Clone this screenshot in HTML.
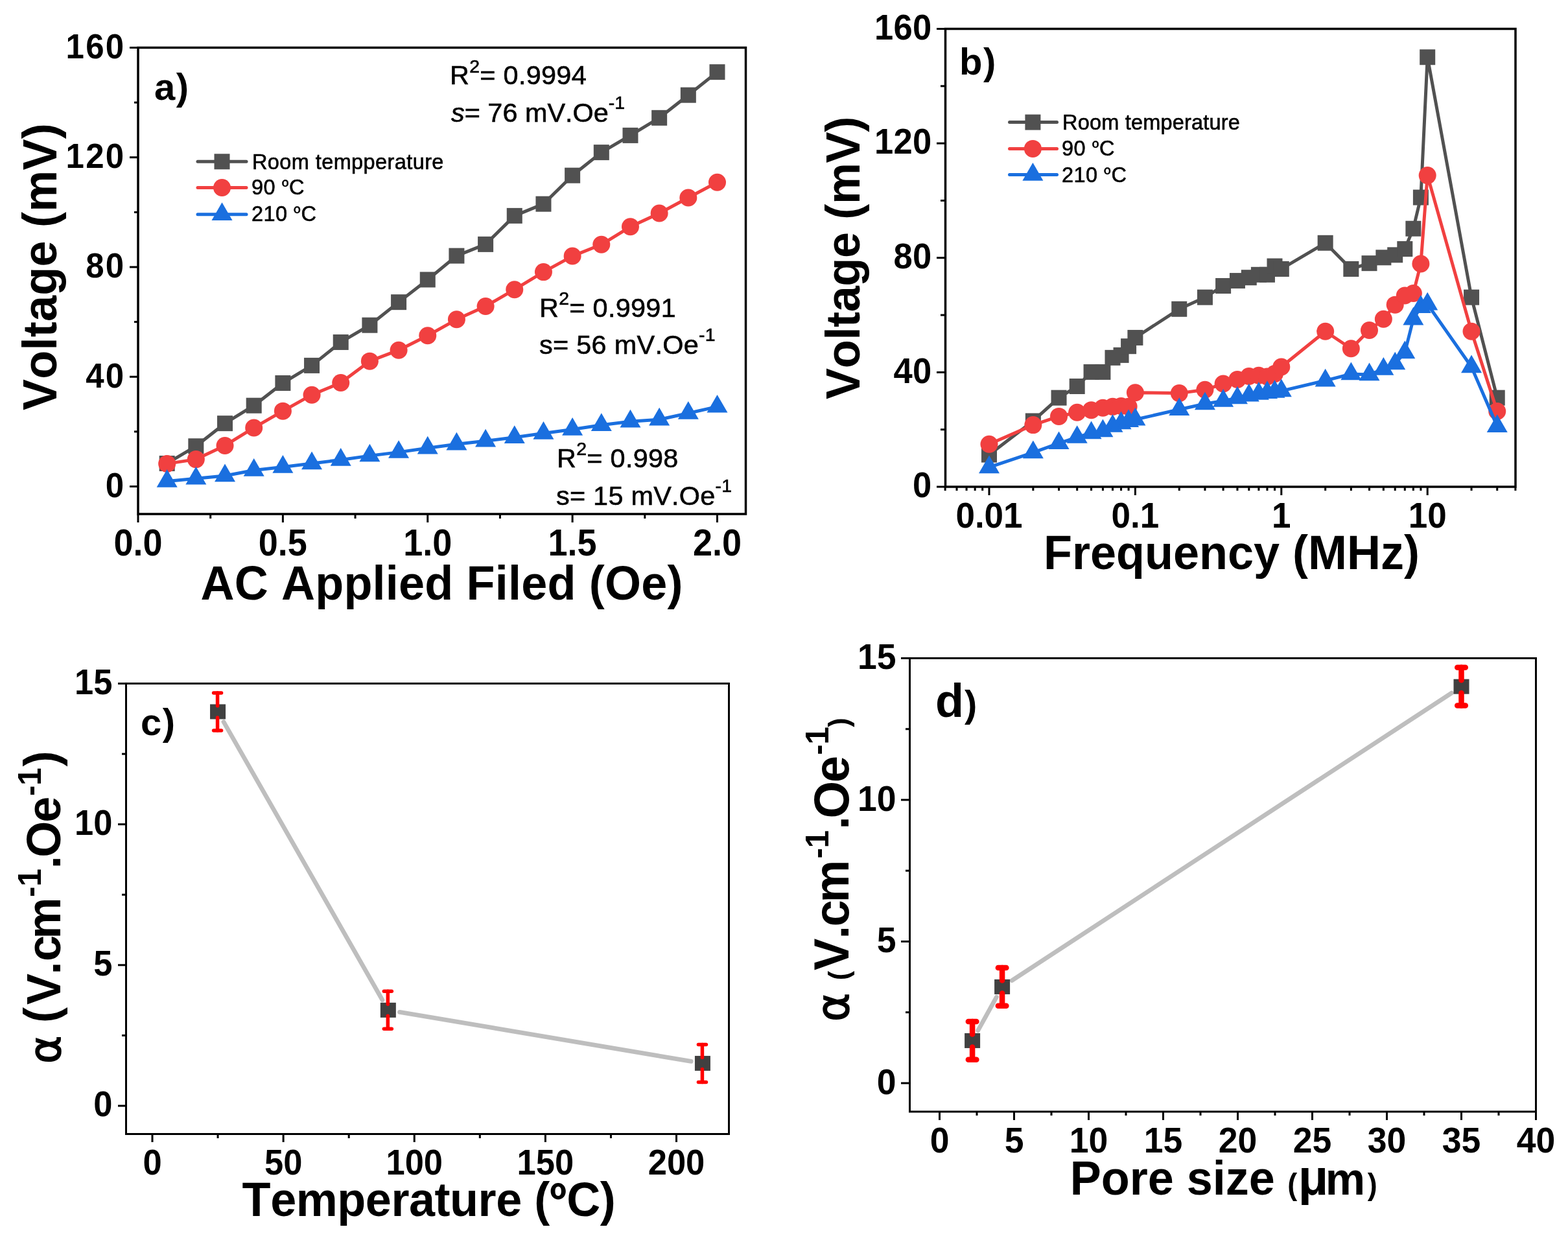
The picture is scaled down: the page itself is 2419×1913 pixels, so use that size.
<!DOCTYPE html>
<html lang="en"><head><meta charset="utf-8"><title>Figure: voltage response and magnetoelectric coefficient</title>
<style>html,body{margin:0;padding:0;background:#fff;overflow:hidden}svg{display:block}text{font-family:"Liberation Sans",sans-serif;fill:#000;font-kerning:none}text.r{stroke:#000;stroke-width:.6px}</style>
</head><body>
<svg width="2419" height="1913" viewBox="0 0 2419 1913">
<rect width="2419" height="1913" fill="#fff"/>
<g id="panel-a">
<polyline fill="none" stroke="#515151" stroke-width="5" stroke-linejoin="round" points="257.68,714.96 302.35,688.3 347.02,653.18 391.7,625.68 436.38,590.98 481.05,563.9 525.73,527.94 570.4,501.7 615.08,466.16 659.75,431.46 704.42,394.65 749.1,376.88 793.77,332.88 838.45,314.68 883.12,270.68 927.8,235.13 972.48,208.9 1017.15,181.82 1061.83,146.7 1106.5,111.16"/>
<rect x="245.68" y="702.96" width="24" height="24" fill="#515151"/>
<rect x="290.35" y="676.3" width="24" height="24" fill="#515151"/>
<rect x="335.02" y="641.18" width="24" height="24" fill="#515151"/>
<rect x="379.7" y="613.68" width="24" height="24" fill="#515151"/>
<rect x="424.38" y="578.98" width="24" height="24" fill="#515151"/>
<rect x="469.05" y="551.9" width="24" height="24" fill="#515151"/>
<rect x="513.73" y="515.94" width="24" height="24" fill="#515151"/>
<rect x="558.4" y="489.7" width="24" height="24" fill="#515151"/>
<rect x="603.08" y="454.16" width="24" height="24" fill="#515151"/>
<rect x="647.75" y="419.46" width="24" height="24" fill="#515151"/>
<rect x="692.42" y="382.65" width="24" height="24" fill="#515151"/>
<rect x="737.1" y="364.88" width="24" height="24" fill="#515151"/>
<rect x="781.77" y="320.88" width="24" height="24" fill="#515151"/>
<rect x="826.45" y="302.68" width="24" height="24" fill="#515151"/>
<rect x="871.12" y="258.68" width="24" height="24" fill="#515151"/>
<rect x="915.8" y="223.13" width="24" height="24" fill="#515151"/>
<rect x="960.48" y="196.9" width="24" height="24" fill="#515151"/>
<rect x="1005.15" y="169.82" width="24" height="24" fill="#515151"/>
<rect x="1049.83" y="134.7" width="24" height="24" fill="#515151"/>
<rect x="1094.5" y="99.16" width="24" height="24" fill="#515151"/>
<polyline fill="none" stroke="#F14040" stroke-width="5" stroke-linejoin="round" points="257.68,715.38 302.35,708.61 347.02,687.45 391.7,659.95 436.38,634.14 481.05,609.18 525.73,590.56 570.4,557.13 615.08,540.21 659.75,517.78 704.42,492.82 749.1,472.51 793.77,446.7 838.45,419.62 883.12,395.07 927.8,377.3 972.48,349.8 1017.15,329.07 1061.83,304.95 1106.5,281.25"/>
<circle cx="257.68" cy="715.38" r="13.5" fill="#F14040"/>
<circle cx="302.35" cy="708.61" r="13.5" fill="#F14040"/>
<circle cx="347.02" cy="687.45" r="13.5" fill="#F14040"/>
<circle cx="391.7" cy="659.95" r="13.5" fill="#F14040"/>
<circle cx="436.38" cy="634.14" r="13.5" fill="#F14040"/>
<circle cx="481.05" cy="609.18" r="13.5" fill="#F14040"/>
<circle cx="525.73" cy="590.56" r="13.5" fill="#F14040"/>
<circle cx="570.4" cy="557.13" r="13.5" fill="#F14040"/>
<circle cx="615.08" cy="540.21" r="13.5" fill="#F14040"/>
<circle cx="659.75" cy="517.78" r="13.5" fill="#F14040"/>
<circle cx="704.42" cy="492.82" r="13.5" fill="#F14040"/>
<circle cx="749.1" cy="472.51" r="13.5" fill="#F14040"/>
<circle cx="793.77" cy="446.7" r="13.5" fill="#F14040"/>
<circle cx="838.45" cy="419.62" r="13.5" fill="#F14040"/>
<circle cx="883.12" cy="395.07" r="13.5" fill="#F14040"/>
<circle cx="927.8" cy="377.3" r="13.5" fill="#F14040"/>
<circle cx="972.48" cy="349.8" r="13.5" fill="#F14040"/>
<circle cx="1017.15" cy="329.07" r="13.5" fill="#F14040"/>
<circle cx="1061.83" cy="304.95" r="13.5" fill="#F14040"/>
<circle cx="1106.5" cy="281.25" r="13.5" fill="#F14040"/>
<polyline fill="none" stroke="#1A6FDF" stroke-width="5" stroke-linejoin="round" points="257.68,742.46 302.35,738.23 347.02,734 391.7,725.54 436.38,720.46 481.05,714.96 525.73,709.46 570.4,703.11 615.08,697.61 659.75,691.26 704.42,685.34 749.1,680.26 793.77,674.76 838.45,668.41 883.12,662.49 927.8,655.72 972.48,650.22 1017.15,647.26 1061.83,637.53 1106.5,627.37"/>
<polygon points="257.68,723.99 241.68,751.7 273.68,751.7" fill="#1A6FDF"/>
<polygon points="302.35,719.75 286.35,747.47 318.35,747.47" fill="#1A6FDF"/>
<polygon points="347.02,715.52 331.02,743.24 363.02,743.24" fill="#1A6FDF"/>
<polygon points="391.7,707.06 375.7,734.77 407.7,734.77" fill="#1A6FDF"/>
<polygon points="436.38,701.98 420.38,729.7 452.38,729.7" fill="#1A6FDF"/>
<polygon points="481.05,696.48 465.05,724.2 497.05,724.2" fill="#1A6FDF"/>
<polygon points="525.73,690.98 509.73,718.69 541.73,718.69" fill="#1A6FDF"/>
<polygon points="570.4,684.63 554.4,712.35 586.4,712.35" fill="#1A6FDF"/>
<polygon points="615.08,679.13 599.08,706.85 631.08,706.85" fill="#1A6FDF"/>
<polygon points="659.75,672.79 643.75,700.5 675.75,700.5" fill="#1A6FDF"/>
<polygon points="704.42,666.86 688.42,694.58 720.42,694.58" fill="#1A6FDF"/>
<polygon points="749.1,661.79 733.1,689.5 765.1,689.5" fill="#1A6FDF"/>
<polygon points="793.77,656.29 777.77,684 809.77,684" fill="#1A6FDF"/>
<polygon points="838.45,649.94 822.45,677.65 854.45,677.65" fill="#1A6FDF"/>
<polygon points="883.12,644.01 867.12,671.73 899.12,671.73" fill="#1A6FDF"/>
<polygon points="927.8,637.24 911.8,664.96 943.8,664.96" fill="#1A6FDF"/>
<polygon points="972.48,631.74 956.48,659.46 988.48,659.46" fill="#1A6FDF"/>
<polygon points="1017.15,628.78 1001.15,656.5 1033.15,656.5" fill="#1A6FDF"/>
<polygon points="1061.83,619.05 1045.83,646.76 1077.83,646.76" fill="#1A6FDF"/>
<polygon points="1106.5,608.9 1090.5,636.61 1122.5,636.61" fill="#1A6FDF"/>
<rect x="213" y="73.5" width="937.5" height="719.5" fill="none" stroke="#000" stroke-width="3.5"/>
<line x1="200" y1="750.5" x2="212" y2="750.5" stroke="#000" stroke-width="3"/>
<text transform="translate(193.5 766.8) scale(1 1.05)" font-size="51" font-weight="bold" text-anchor="end" letter-spacing="2.3">0</text>
<line x1="200" y1="581.25" x2="212" y2="581.25" stroke="#000" stroke-width="3"/>
<text transform="translate(193.5 597.55) scale(1 1.05)" font-size="51" font-weight="bold" text-anchor="end" letter-spacing="2.3">40</text>
<line x1="200" y1="412" x2="212" y2="412" stroke="#000" stroke-width="3"/>
<text transform="translate(193.5 428.3) scale(1 1.05)" font-size="51" font-weight="bold" text-anchor="end" letter-spacing="2.3">80</text>
<line x1="200" y1="242.75" x2="212" y2="242.75" stroke="#000" stroke-width="3"/>
<text transform="translate(193.5 259.05) scale(1 1.05)" font-size="51" font-weight="bold" text-anchor="end" letter-spacing="2.3">120</text>
<line x1="200" y1="73.5" x2="212" y2="73.5" stroke="#000" stroke-width="3"/>
<text transform="translate(193.5 89.8) scale(1 1.05)" font-size="51" font-weight="bold" text-anchor="end" letter-spacing="2.3">160</text>
<line x1="207" y1="665.88" x2="212" y2="665.88" stroke="#000" stroke-width="3"/>
<line x1="207" y1="496.62" x2="212" y2="496.62" stroke="#000" stroke-width="3"/>
<line x1="207" y1="327.38" x2="212" y2="327.38" stroke="#000" stroke-width="3"/>
<line x1="207" y1="158.12" x2="212" y2="158.12" stroke="#000" stroke-width="3"/>
<line x1="213" y1="794" x2="213" y2="806" stroke="#000" stroke-width="3"/>
<text transform="translate(213 856.5) scale(1 1.05)" font-size="54" font-weight="bold" text-anchor="middle">0.0</text>
<line x1="436.38" y1="794" x2="436.38" y2="806" stroke="#000" stroke-width="3"/>
<text transform="translate(436.38 856.5) scale(1 1.05)" font-size="54" font-weight="bold" text-anchor="middle">0.5</text>
<line x1="659.75" y1="794" x2="659.75" y2="806" stroke="#000" stroke-width="3"/>
<text transform="translate(659.75 856.5) scale(1 1.05)" font-size="54" font-weight="bold" text-anchor="middle">1.0</text>
<line x1="883.12" y1="794" x2="883.12" y2="806" stroke="#000" stroke-width="3"/>
<text transform="translate(883.12 856.5) scale(1 1.05)" font-size="54" font-weight="bold" text-anchor="middle">1.5</text>
<line x1="1106.5" y1="794" x2="1106.5" y2="806" stroke="#000" stroke-width="3"/>
<text transform="translate(1106.5 856.5) scale(1 1.05)" font-size="54" font-weight="bold" text-anchor="middle">2.0</text>
<line x1="324.69" y1="794" x2="324.69" y2="800" stroke="#000" stroke-width="3"/>
<line x1="548.06" y1="794" x2="548.06" y2="800" stroke="#000" stroke-width="3"/>
<line x1="771.44" y1="794" x2="771.44" y2="800" stroke="#000" stroke-width="3"/>
<line x1="994.81" y1="794" x2="994.81" y2="800" stroke="#000" stroke-width="3"/>
<text transform="translate(681.5 924.9) scale(1 1.03)" font-size="72" font-weight="bold" text-anchor="middle" letter-spacing="0.2">AC Applied Filed (Oe)</text>
<text transform="translate(86.9 411.5) rotate(-90) scale(1 1.03)" font-size="72" font-weight="bold" text-anchor="middle" letter-spacing="0.25">Voltage (mV)</text>
<text transform="translate(238 153.5)" font-size="58" font-weight="bold" letter-spacing="1.5">a)</text>
<line x1="305" y1="249.3" x2="380" y2="249.3" stroke="#515151" stroke-width="5" stroke-linecap="round"/>
<rect x="330.5" y="237.3" width="24" height="24" fill="#515151"/>
<text transform="translate(389 260.8)" font-size="32.5" class="r" letter-spacing="0.4">Room tempperature</text>
<line x1="305" y1="289.5" x2="380" y2="289.5" stroke="#F14040" stroke-width="5" stroke-linecap="round"/>
<circle cx="342.5" cy="289.5" r="13.5" fill="#F14040"/>
<text transform="translate(388 300.2)" font-size="32.5" class="r" letter-spacing="0.4">90 <tspan font-family="'Noto Sans CJK SC','Liberation Sans',sans-serif" font-size="27.62">º</tspan>C</text>
<line x1="305" y1="330.7" x2="380" y2="330.7" stroke="#1A6FDF" stroke-width="5" stroke-linecap="round"/>
<polygon points="342.5,312.22 326.5,339.94 358.5,339.94" fill="#1A6FDF"/>
<text transform="translate(388 341.2)" font-size="32.5" class="r" letter-spacing="0.4">210 <tspan font-family="'Noto Sans CJK SC','Liberation Sans',sans-serif" font-size="27.62">º</tspan>C</text>
<text transform="translate(694 129.9)" font-size="41.4" class="r" letter-spacing="0.3">R<tspan font-size="28.4" dy="-18.4">2</tspan><tspan dy="18.4">= 0.9994</tspan></text>
<text transform="translate(696 187.7)" font-size="41.4" class="r"><tspan font-style="italic">s</tspan>= 76 mV.Oe<tspan font-size="28.4" dy="-19.5">-1</tspan></text>
<text transform="translate(832 488.8)" font-size="41.4" class="r" letter-spacing="0.3">R<tspan font-size="28.4" dy="-18.4">2</tspan><tspan dy="18.4">= 0.9991</tspan></text>
<text transform="translate(832 545.7)" font-size="41.4" class="r" letter-spacing="0.3">s= 56 mV.Oe<tspan font-size="28.4" dy="-19.5">-1</tspan></text>
<text transform="translate(859 720.5)" font-size="41.4" class="r" letter-spacing="0.3">R<tspan font-size="28.4" dy="-18.4">2</tspan><tspan dy="18.4">= 0.998</tspan></text>
<text transform="translate(858 778.8)" font-size="41.4" class="r" letter-spacing="0.25">s= 15 mV.Oe<tspan font-size="28.4" dy="-19.5">-1</tspan></text>
</g>
<g id="panel-b">
<polyline fill="none" stroke="#515151" stroke-width="5" stroke-linejoin="round" points="1526,701.55 1593.85,649.44 1633.54,613.67 1661.7,596.01 1683.55,573.93 1701.4,573.93 1716.49,551.86 1729.56,547.88 1741.09,534.19 1751.4,520.95 1819.25,476.79 1858.94,458.69 1887.1,441.02 1908.95,433.08 1926.8,428.22 1941.89,423.8 1954.96,423.8 1966.49,410.56 1976.8,414.97 2044.65,374.79 2084.34,414.97 2112.5,406.14 2134.35,397.31 2152.2,393.34 2167.29,384.06 2180.36,352.71 2191.89,304.58 2202.2,88.22 2270.05,458.69 2309.74,613.67"/>
<rect x="1514" y="689.55" width="24" height="24" fill="#515151"/>
<rect x="1581.85" y="637.44" width="24" height="24" fill="#515151"/>
<rect x="1621.54" y="601.67" width="24" height="24" fill="#515151"/>
<rect x="1649.7" y="584.01" width="24" height="24" fill="#515151"/>
<rect x="1671.55" y="561.93" width="24" height="24" fill="#515151"/>
<rect x="1689.4" y="561.93" width="24" height="24" fill="#515151"/>
<rect x="1704.49" y="539.86" width="24" height="24" fill="#515151"/>
<rect x="1717.56" y="535.88" width="24" height="24" fill="#515151"/>
<rect x="1729.09" y="522.19" width="24" height="24" fill="#515151"/>
<rect x="1739.4" y="508.95" width="24" height="24" fill="#515151"/>
<rect x="1807.25" y="464.79" width="24" height="24" fill="#515151"/>
<rect x="1846.94" y="446.69" width="24" height="24" fill="#515151"/>
<rect x="1875.1" y="429.02" width="24" height="24" fill="#515151"/>
<rect x="1896.95" y="421.08" width="24" height="24" fill="#515151"/>
<rect x="1914.8" y="416.22" width="24" height="24" fill="#515151"/>
<rect x="1929.89" y="411.8" width="24" height="24" fill="#515151"/>
<rect x="1942.96" y="411.8" width="24" height="24" fill="#515151"/>
<rect x="1954.49" y="398.56" width="24" height="24" fill="#515151"/>
<rect x="1964.8" y="402.97" width="24" height="24" fill="#515151"/>
<rect x="2032.65" y="362.79" width="24" height="24" fill="#515151"/>
<rect x="2072.34" y="402.97" width="24" height="24" fill="#515151"/>
<rect x="2100.5" y="394.14" width="24" height="24" fill="#515151"/>
<rect x="2122.35" y="385.31" width="24" height="24" fill="#515151"/>
<rect x="2140.2" y="381.34" width="24" height="24" fill="#515151"/>
<rect x="2155.29" y="372.06" width="24" height="24" fill="#515151"/>
<rect x="2168.36" y="340.71" width="24" height="24" fill="#515151"/>
<rect x="2179.89" y="292.58" width="24" height="24" fill="#515151"/>
<rect x="2190.2" y="76.22" width="24" height="24" fill="#515151"/>
<rect x="2258.05" y="446.69" width="24" height="24" fill="#515151"/>
<rect x="2297.74" y="601.67" width="24" height="24" fill="#515151"/>
<polyline fill="none" stroke="#F14040" stroke-width="5" stroke-linejoin="round" points="1526,685.21 1593.85,655.62 1633.54,642.38 1661.7,636.19 1683.55,632.66 1701.4,629.13 1716.49,627.36 1729.56,626.48 1741.09,627.36 1751.4,605.73 1819.25,606.61 1858.94,601.31 1887.1,592.04 1908.95,585.41 1926.8,580.56 1941.89,579.23 1954.96,581 1966.49,576.58 1976.8,565.99 2044.65,511.23 2084.34,537.73 2112.5,509.47 2134.35,492.25 2152.2,470.17 2167.29,456.04 2180.36,452.51 2191.89,407.02 2202.2,270.58 2270.05,511.23 2309.74,634.43"/>
<circle cx="1526" cy="685.21" r="13.5" fill="#F14040"/>
<circle cx="1593.85" cy="655.62" r="13.5" fill="#F14040"/>
<circle cx="1633.54" cy="642.38" r="13.5" fill="#F14040"/>
<circle cx="1661.7" cy="636.19" r="13.5" fill="#F14040"/>
<circle cx="1683.55" cy="632.66" r="13.5" fill="#F14040"/>
<circle cx="1701.4" cy="629.13" r="13.5" fill="#F14040"/>
<circle cx="1716.49" cy="627.36" r="13.5" fill="#F14040"/>
<circle cx="1729.56" cy="626.48" r="13.5" fill="#F14040"/>
<circle cx="1741.09" cy="627.36" r="13.5" fill="#F14040"/>
<circle cx="1751.4" cy="605.73" r="13.5" fill="#F14040"/>
<circle cx="1819.25" cy="606.61" r="13.5" fill="#F14040"/>
<circle cx="1858.94" cy="601.31" r="13.5" fill="#F14040"/>
<circle cx="1887.1" cy="592.04" r="13.5" fill="#F14040"/>
<circle cx="1908.95" cy="585.41" r="13.5" fill="#F14040"/>
<circle cx="1926.8" cy="580.56" r="13.5" fill="#F14040"/>
<circle cx="1941.89" cy="579.23" r="13.5" fill="#F14040"/>
<circle cx="1954.96" cy="581" r="13.5" fill="#F14040"/>
<circle cx="1966.49" cy="576.58" r="13.5" fill="#F14040"/>
<circle cx="1976.8" cy="565.99" r="13.5" fill="#F14040"/>
<circle cx="2044.65" cy="511.23" r="13.5" fill="#F14040"/>
<circle cx="2084.34" cy="537.73" r="13.5" fill="#F14040"/>
<circle cx="2112.5" cy="509.47" r="13.5" fill="#F14040"/>
<circle cx="2134.35" cy="492.25" r="13.5" fill="#F14040"/>
<circle cx="2152.2" cy="470.17" r="13.5" fill="#F14040"/>
<circle cx="2167.29" cy="456.04" r="13.5" fill="#F14040"/>
<circle cx="2180.36" cy="452.51" r="13.5" fill="#F14040"/>
<circle cx="2191.89" cy="407.02" r="13.5" fill="#F14040"/>
<circle cx="2202.2" cy="270.58" r="13.5" fill="#F14040"/>
<circle cx="2270.05" cy="511.23" r="13.5" fill="#F14040"/>
<circle cx="2309.74" cy="634.43" r="13.5" fill="#F14040"/>
<polyline fill="none" stroke="#1A6FDF" stroke-width="5" stroke-linejoin="round" points="1526,720.97 1593.85,698.01 1633.54,683.88 1661.7,674.61 1683.55,667.99 1701.4,664.9 1716.49,657.39 1729.56,652.97 1741.09,649.88 1751.4,647.23 1819.25,631.78 1858.94,622.95 1887.1,618.53 1908.95,614.12 1926.8,610.14 1941.89,607.49 1954.96,605.73 1966.49,604.4 1976.8,603.08 2044.65,587.18 2084.34,577.03 2112.5,577.91 2134.35,569.52 2152.2,561.13 2167.29,543.91 2180.36,492.25 2191.89,473.7 2202.2,469.28 2270.05,565.99 2309.74,657.83"/>
<polygon points="1526,702.5 1510,730.21 1542,730.21" fill="#1A6FDF"/>
<polygon points="1593.85,679.54 1577.85,707.25 1609.85,707.25" fill="#1A6FDF"/>
<polygon points="1633.54,665.41 1617.54,693.12 1649.54,693.12" fill="#1A6FDF"/>
<polygon points="1661.7,656.13 1645.7,683.85 1677.7,683.85" fill="#1A6FDF"/>
<polygon points="1683.55,649.51 1667.55,677.22 1699.55,677.22" fill="#1A6FDF"/>
<polygon points="1701.4,646.42 1685.4,674.13 1717.4,674.13" fill="#1A6FDF"/>
<polygon points="1716.49,638.91 1700.49,666.63 1732.49,666.63" fill="#1A6FDF"/>
<polygon points="1729.56,634.5 1713.56,662.21 1745.56,662.21" fill="#1A6FDF"/>
<polygon points="1741.09,631.41 1725.09,659.12 1757.09,659.12" fill="#1A6FDF"/>
<polygon points="1751.4,628.76 1735.4,656.47 1767.4,656.47" fill="#1A6FDF"/>
<polygon points="1819.25,613.3 1803.25,641.02 1835.25,641.02" fill="#1A6FDF"/>
<polygon points="1858.94,604.47 1842.94,632.19 1874.94,632.19" fill="#1A6FDF"/>
<polygon points="1887.1,600.06 1871.1,627.77 1903.1,627.77" fill="#1A6FDF"/>
<polygon points="1908.95,595.64 1892.95,623.35 1924.95,623.35" fill="#1A6FDF"/>
<polygon points="1926.8,591.67 1910.8,619.38 1942.8,619.38" fill="#1A6FDF"/>
<polygon points="1941.89,589.02 1925.89,616.73 1957.89,616.73" fill="#1A6FDF"/>
<polygon points="1954.96,587.25 1938.96,614.96 1970.96,614.96" fill="#1A6FDF"/>
<polygon points="1966.49,585.93 1950.49,613.64 1982.49,613.64" fill="#1A6FDF"/>
<polygon points="1976.8,584.6 1960.8,612.32 1992.8,612.32" fill="#1A6FDF"/>
<polygon points="2044.65,568.71 2028.65,596.42 2060.65,596.42" fill="#1A6FDF"/>
<polygon points="2084.34,558.55 2068.34,586.26 2100.34,586.26" fill="#1A6FDF"/>
<polygon points="2112.5,559.43 2096.5,587.15 2128.5,587.15" fill="#1A6FDF"/>
<polygon points="2134.35,551.04 2118.35,578.76 2150.35,578.76" fill="#1A6FDF"/>
<polygon points="2152.2,542.65 2136.2,570.37 2168.2,570.37" fill="#1A6FDF"/>
<polygon points="2167.29,525.43 2151.29,553.15 2183.29,553.15" fill="#1A6FDF"/>
<polygon points="2180.36,473.77 2164.36,501.48 2196.36,501.48" fill="#1A6FDF"/>
<polygon points="2191.89,455.23 2175.89,482.94 2207.89,482.94" fill="#1A6FDF"/>
<polygon points="2202.2,450.81 2186.2,478.52 2218.2,478.52" fill="#1A6FDF"/>
<polygon points="2270.05,547.51 2254.05,575.22 2286.05,575.22" fill="#1A6FDF"/>
<polygon points="2309.74,639.36 2293.74,667.07 2325.74,667.07" fill="#1A6FDF"/>
<rect x="1458.5" y="44.5" width="879.5" height="706.5" fill="none" stroke="#000" stroke-width="3.5"/>
<line x1="1445" y1="751" x2="1458" y2="751" stroke="#000" stroke-width="3"/>
<text transform="translate(1437.5 767.3) scale(1 1.05)" font-size="52.5" font-weight="bold" text-anchor="end" letter-spacing="0.3">0</text>
<line x1="1445" y1="574.38" x2="1458" y2="574.38" stroke="#000" stroke-width="3"/>
<text transform="translate(1437.5 590.68) scale(1 1.05)" font-size="52.5" font-weight="bold" text-anchor="end" letter-spacing="0.3">40</text>
<line x1="1445" y1="397.75" x2="1458" y2="397.75" stroke="#000" stroke-width="3"/>
<text transform="translate(1437.5 414.05) scale(1 1.05)" font-size="52.5" font-weight="bold" text-anchor="end" letter-spacing="0.3">80</text>
<line x1="1445" y1="221.13" x2="1458" y2="221.13" stroke="#000" stroke-width="3"/>
<text transform="translate(1437.5 237.43) scale(1 1.05)" font-size="52.5" font-weight="bold" text-anchor="end" letter-spacing="0.3">120</text>
<line x1="1445" y1="44.5" x2="1458" y2="44.5" stroke="#000" stroke-width="3"/>
<text transform="translate(1437.5 60.8) scale(1 1.05)" font-size="52.5" font-weight="bold" text-anchor="end" letter-spacing="0.3">160</text>
<line x1="1451" y1="662.69" x2="1458" y2="662.69" stroke="#000" stroke-width="3"/>
<line x1="1451" y1="486.06" x2="1458" y2="486.06" stroke="#000" stroke-width="3"/>
<line x1="1451" y1="309.44" x2="1458" y2="309.44" stroke="#000" stroke-width="3"/>
<line x1="1451" y1="132.82" x2="1458" y2="132.82" stroke="#000" stroke-width="3"/>
<line x1="1526" y1="752" x2="1526" y2="764" stroke="#000" stroke-width="3"/>
<line x1="1751.4" y1="752" x2="1751.4" y2="764" stroke="#000" stroke-width="3"/>
<line x1="1976.8" y1="752" x2="1976.8" y2="764" stroke="#000" stroke-width="3"/>
<line x1="2202.2" y1="752" x2="2202.2" y2="764" stroke="#000" stroke-width="3"/>
<text transform="translate(1526 813.9) scale(1 1.05)" font-size="53" font-weight="bold" text-anchor="middle">0.01</text>
<text transform="translate(1751.4 813.9) scale(1 1.05)" font-size="53" font-weight="bold" text-anchor="middle">0.1</text>
<text transform="translate(1976.8 813.9) scale(1 1.05)" font-size="53" font-weight="bold" text-anchor="middle">1</text>
<text transform="translate(2202.2 813.9) scale(1 1.05)" font-size="53" font-weight="bold" text-anchor="middle">10</text>
<line x1="1458.15" y1="752" x2="1458.15" y2="757" stroke="#000" stroke-width="3"/>
<line x1="1476" y1="752" x2="1476" y2="757" stroke="#000" stroke-width="3"/>
<line x1="1491.09" y1="752" x2="1491.09" y2="757" stroke="#000" stroke-width="3"/>
<line x1="1504.16" y1="752" x2="1504.16" y2="757" stroke="#000" stroke-width="3"/>
<line x1="1515.69" y1="752" x2="1515.69" y2="757" stroke="#000" stroke-width="3"/>
<line x1="1593.85" y1="752" x2="1593.85" y2="757" stroke="#000" stroke-width="3"/>
<line x1="1633.54" y1="752" x2="1633.54" y2="757" stroke="#000" stroke-width="3"/>
<line x1="1661.7" y1="752" x2="1661.7" y2="757" stroke="#000" stroke-width="3"/>
<line x1="1683.55" y1="752" x2="1683.55" y2="757" stroke="#000" stroke-width="3"/>
<line x1="1701.4" y1="752" x2="1701.4" y2="757" stroke="#000" stroke-width="3"/>
<line x1="1716.49" y1="752" x2="1716.49" y2="757" stroke="#000" stroke-width="3"/>
<line x1="1729.56" y1="752" x2="1729.56" y2="757" stroke="#000" stroke-width="3"/>
<line x1="1741.09" y1="752" x2="1741.09" y2="757" stroke="#000" stroke-width="3"/>
<line x1="1819.25" y1="752" x2="1819.25" y2="757" stroke="#000" stroke-width="3"/>
<line x1="1858.94" y1="752" x2="1858.94" y2="757" stroke="#000" stroke-width="3"/>
<line x1="1887.1" y1="752" x2="1887.1" y2="757" stroke="#000" stroke-width="3"/>
<line x1="1908.95" y1="752" x2="1908.95" y2="757" stroke="#000" stroke-width="3"/>
<line x1="1926.8" y1="752" x2="1926.8" y2="757" stroke="#000" stroke-width="3"/>
<line x1="1941.89" y1="752" x2="1941.89" y2="757" stroke="#000" stroke-width="3"/>
<line x1="1954.96" y1="752" x2="1954.96" y2="757" stroke="#000" stroke-width="3"/>
<line x1="1966.49" y1="752" x2="1966.49" y2="757" stroke="#000" stroke-width="3"/>
<line x1="2044.65" y1="752" x2="2044.65" y2="757" stroke="#000" stroke-width="3"/>
<line x1="2084.34" y1="752" x2="2084.34" y2="757" stroke="#000" stroke-width="3"/>
<line x1="2112.5" y1="752" x2="2112.5" y2="757" stroke="#000" stroke-width="3"/>
<line x1="2134.35" y1="752" x2="2134.35" y2="757" stroke="#000" stroke-width="3"/>
<line x1="2152.2" y1="752" x2="2152.2" y2="757" stroke="#000" stroke-width="3"/>
<line x1="2167.29" y1="752" x2="2167.29" y2="757" stroke="#000" stroke-width="3"/>
<line x1="2180.36" y1="752" x2="2180.36" y2="757" stroke="#000" stroke-width="3"/>
<line x1="2191.89" y1="752" x2="2191.89" y2="757" stroke="#000" stroke-width="3"/>
<line x1="2270.05" y1="752" x2="2270.05" y2="757" stroke="#000" stroke-width="3"/>
<line x1="2309.74" y1="752" x2="2309.74" y2="757" stroke="#000" stroke-width="3"/>
<line x1="2337.9" y1="752" x2="2337.9" y2="757" stroke="#000" stroke-width="3"/>
<text transform="translate(1900 878) scale(1 1.02)" font-size="72" font-weight="bold" text-anchor="middle">Frequency (MHz)</text>
<text transform="translate(1326.3 398) rotate(-90) scale(1 1.03)" font-size="72" font-weight="bold" text-anchor="middle" letter-spacing="-0.35">Voltage (mV)</text>
<text transform="translate(1480 115.2)" font-size="58" font-weight="bold" letter-spacing="1.5">b)</text>
<line x1="1557.5" y1="188.6" x2="1630.5" y2="188.6" stroke="#515151" stroke-width="5" stroke-linecap="round"/>
<rect x="1581.4" y="176.6" width="24" height="24" fill="#515151"/>
<text transform="translate(1639 199.7)" font-size="32.5" class="r" letter-spacing="0.2">Room temperature</text>
<line x1="1557.5" y1="229.4" x2="1630.5" y2="229.4" stroke="#F14040" stroke-width="5" stroke-linecap="round"/>
<circle cx="1593.4" cy="229.4" r="13.5" fill="#F14040"/>
<text transform="translate(1638 240.2)" font-size="32.5" class="r" letter-spacing="0.4">90 <tspan font-family="'Noto Sans CJK SC','Liberation Sans',sans-serif" font-size="27.62">º</tspan>C</text>
<line x1="1557.5" y1="269.4" x2="1630.5" y2="269.4" stroke="#1A6FDF" stroke-width="5" stroke-linecap="round"/>
<polygon points="1593.4,250.92 1577.4,278.64 1609.4,278.64" fill="#1A6FDF"/>
<text transform="translate(1638 280.7)" font-size="32.5" class="r" letter-spacing="0.4">210 <tspan font-family="'Noto Sans CJK SC','Liberation Sans',sans-serif" font-size="27.62">º</tspan>C</text>
</g>
<g id="panel-c">
<line x1="344.99" y1="1113.61" x2="589.9" y2="1542.71" stroke="#BEBEBE" stroke-width="6.8" stroke-linecap="round"/>
<line x1="616.57" y1="1561.34" x2="1066.18" y2="1637.42" stroke="#BEBEBE" stroke-width="6.8" stroke-linecap="round"/>
<rect x="324.06" y="1086.48" width="24" height="23" fill="#404040"/>
<rect x="586.83" y="1546.84" width="24" height="23" fill="#404040"/>
<rect x="1071.93" y="1628.92" width="24" height="23" fill="#404040"/>
<line x1="335.56" y1="1068.98" x2="335.56" y2="1088.98" stroke="#FF0000" stroke-width="5.5" stroke-linecap="round"/>
<line x1="335.56" y1="1106.98" x2="335.56" y2="1126.98" stroke="#FF0000" stroke-width="5.5" stroke-linecap="round"/>
<line x1="329.56" y1="1068.98" x2="341.56" y2="1068.98" stroke="#FF0000" stroke-width="5.5" stroke-linecap="round"/>
<line x1="329.56" y1="1126.98" x2="341.56" y2="1126.98" stroke="#FF0000" stroke-width="5.5" stroke-linecap="round"/>
<line x1="598.33" y1="1529.34" x2="598.33" y2="1549.34" stroke="#FF0000" stroke-width="5.5" stroke-linecap="round"/>
<line x1="598.33" y1="1567.34" x2="598.33" y2="1587.34" stroke="#FF0000" stroke-width="5.5" stroke-linecap="round"/>
<line x1="592.33" y1="1529.34" x2="604.33" y2="1529.34" stroke="#FF0000" stroke-width="5.5" stroke-linecap="round"/>
<line x1="592.33" y1="1587.34" x2="604.33" y2="1587.34" stroke="#FF0000" stroke-width="5.5" stroke-linecap="round"/>
<line x1="1083.43" y1="1611.42" x2="1083.43" y2="1631.42" stroke="#FF0000" stroke-width="5.5" stroke-linecap="round"/>
<line x1="1083.43" y1="1649.42" x2="1083.43" y2="1669.42" stroke="#FF0000" stroke-width="5.5" stroke-linecap="round"/>
<line x1="1077.43" y1="1611.42" x2="1089.43" y2="1611.42" stroke="#FF0000" stroke-width="5.5" stroke-linecap="round"/>
<line x1="1077.43" y1="1669.42" x2="1089.43" y2="1669.42" stroke="#FF0000" stroke-width="5.5" stroke-linecap="round"/>
<rect x="194.5" y="1054.5" width="930" height="695" fill="none" stroke="#000" stroke-width="3"/>
<line x1="182" y1="1706" x2="194" y2="1706" stroke="#000" stroke-width="3"/>
<text transform="translate(173.5 1722.3) scale(1 1.05)" font-size="52.5" font-weight="bold" text-anchor="end">0</text>
<line x1="182" y1="1488.85" x2="194" y2="1488.85" stroke="#000" stroke-width="3"/>
<text transform="translate(173.5 1505.15) scale(1 1.05)" font-size="52.5" font-weight="bold" text-anchor="end">5</text>
<line x1="182" y1="1271.7" x2="194" y2="1271.7" stroke="#000" stroke-width="3"/>
<text transform="translate(173.5 1288) scale(1 1.05)" font-size="52.5" font-weight="bold" text-anchor="end">10</text>
<line x1="182" y1="1054.55" x2="194" y2="1054.55" stroke="#000" stroke-width="3"/>
<text transform="translate(173.5 1070.85) scale(1 1.05)" font-size="52.5" font-weight="bold" text-anchor="end">15</text>
<line x1="188" y1="1597.42" x2="194" y2="1597.42" stroke="#000" stroke-width="3"/>
<line x1="188" y1="1380.28" x2="194" y2="1380.28" stroke="#000" stroke-width="3"/>
<line x1="188" y1="1163.12" x2="194" y2="1163.12" stroke="#000" stroke-width="3"/>
<line x1="235" y1="1750" x2="235" y2="1762" stroke="#000" stroke-width="3"/>
<text transform="translate(235 1811.9) scale(1 1.05)" font-size="52.5" font-weight="bold" text-anchor="middle">0</text>
<line x1="437.12" y1="1750" x2="437.12" y2="1762" stroke="#000" stroke-width="3"/>
<text transform="translate(437.12 1811.9) scale(1 1.05)" font-size="52.5" font-weight="bold" text-anchor="middle">50</text>
<line x1="639.25" y1="1750" x2="639.25" y2="1762" stroke="#000" stroke-width="3"/>
<text transform="translate(639.25 1811.9) scale(1 1.05)" font-size="52.5" font-weight="bold" text-anchor="middle">100</text>
<line x1="841.38" y1="1750" x2="841.38" y2="1762" stroke="#000" stroke-width="3"/>
<text transform="translate(841.38 1811.9) scale(1 1.05)" font-size="52.5" font-weight="bold" text-anchor="middle">150</text>
<line x1="1043.5" y1="1750" x2="1043.5" y2="1762" stroke="#000" stroke-width="3"/>
<text transform="translate(1043.5 1811.9) scale(1 1.05)" font-size="52.5" font-weight="bold" text-anchor="middle">200</text>
<line x1="336.06" y1="1750" x2="336.06" y2="1756" stroke="#000" stroke-width="3"/>
<line x1="538.19" y1="1750" x2="538.19" y2="1756" stroke="#000" stroke-width="3"/>
<line x1="740.31" y1="1750" x2="740.31" y2="1756" stroke="#000" stroke-width="3"/>
<line x1="942.44" y1="1750" x2="942.44" y2="1756" stroke="#000" stroke-width="3"/>
<text transform="translate(661.5 1876) scale(1 1.02)" font-size="72" font-weight="bold" text-anchor="middle" letter-spacing="-0.45">Temperature (<tspan font-family="'Noto Sans CJK SC','Liberation Sans',sans-serif" font-size="64.08" dy="1.6">º</tspan><tspan dy="-1.6">C</tspan>)</text>
<text transform="translate(93.4 1643.5) rotate(-90) scale(1 1.03)" font-size="72" font-weight="bold"><tspan dx="2.6" font-family="'DejaVu Sans','Liberation Sans',sans-serif" font-size="66" font-weight="normal" stroke="#000" stroke-width="1.5">α</tspan> <tspan dx="-0.6" dy="-4">(</tspan><tspan dx="4" dy="4">V</tspan><tspan dx="-1.5">.</tspan><tspan dx="0.5">c</tspan><tspan dx="-5.5">m</tspan><tspan dx="0.5" font-size="49" dy="-30">-1</tspan><tspan dy="30">.</tspan><tspan dx="-2.4">O</tspan><tspan dx="-1.9">e</tspan><tspan dx="0.5" font-size="49" dy="-30">-1</tspan><tspan dx="2" dy="26">)</tspan></text>
<text transform="translate(217 1134)" font-size="58" font-weight="bold" letter-spacing="1.5">c)</text>
</g>
<g id="panel-d">
<line x1="1508.82" y1="1589.7" x2="1537.38" y2="1538.17" stroke="#BEBEBE" stroke-width="6.8" stroke-linecap="round"/>
<line x1="1561.17" y1="1512.57" x2="2239.43" y2="1069.05" stroke="#BEBEBE" stroke-width="6.8" stroke-linecap="round"/>
<rect x="1488.1" y="1593.95" width="24" height="23" fill="#404040"/>
<rect x="1534.1" y="1510.92" width="24" height="23" fill="#404040"/>
<rect x="2242.5" y="1047.7" width="24" height="23" fill="#404040"/>
<line x1="1500.1" y1="1576.05" x2="1500.1" y2="1595.45" stroke="#FF0000" stroke-width="8.5" stroke-linecap="round"/>
<line x1="1500.1" y1="1615.45" x2="1500.1" y2="1634.85" stroke="#FF0000" stroke-width="8.5" stroke-linecap="round"/>
<line x1="1493.85" y1="1576.05" x2="1506.35" y2="1576.05" stroke="#FF0000" stroke-width="8.5" stroke-linecap="round"/>
<line x1="1493.85" y1="1634.85" x2="1506.35" y2="1634.85" stroke="#FF0000" stroke-width="8.5" stroke-linecap="round"/>
<line x1="1546.1" y1="1493.02" x2="1546.1" y2="1512.42" stroke="#FF0000" stroke-width="8.5" stroke-linecap="round"/>
<line x1="1546.1" y1="1532.42" x2="1546.1" y2="1551.82" stroke="#FF0000" stroke-width="8.5" stroke-linecap="round"/>
<line x1="1539.85" y1="1493.02" x2="1552.35" y2="1493.02" stroke="#FF0000" stroke-width="8.5" stroke-linecap="round"/>
<line x1="1539.85" y1="1551.82" x2="1552.35" y2="1551.82" stroke="#FF0000" stroke-width="8.5" stroke-linecap="round"/>
<line x1="2254.5" y1="1029.8" x2="2254.5" y2="1049.2" stroke="#FF0000" stroke-width="8.5" stroke-linecap="round"/>
<line x1="2254.5" y1="1069.2" x2="2254.5" y2="1088.6" stroke="#FF0000" stroke-width="8.5" stroke-linecap="round"/>
<line x1="2248.25" y1="1029.8" x2="2260.75" y2="1029.8" stroke="#FF0000" stroke-width="8.5" stroke-linecap="round"/>
<line x1="2248.25" y1="1088.6" x2="2260.75" y2="1088.6" stroke="#FF0000" stroke-width="8.5" stroke-linecap="round"/>
<rect x="1403.5" y="1015.5" width="966" height="699.5" fill="none" stroke="#000" stroke-width="3"/>
<line x1="1390" y1="1671" x2="1403" y2="1671" stroke="#000" stroke-width="3"/>
<text transform="translate(1382.5 1687.5) scale(1 1.05)" font-size="53.5" font-weight="bold" text-anchor="end">0</text>
<line x1="1390" y1="1452.5" x2="1403" y2="1452.5" stroke="#000" stroke-width="3"/>
<text transform="translate(1382.5 1469) scale(1 1.05)" font-size="53.5" font-weight="bold" text-anchor="end">5</text>
<line x1="1390" y1="1234" x2="1403" y2="1234" stroke="#000" stroke-width="3"/>
<text transform="translate(1382.5 1250.5) scale(1 1.05)" font-size="53.5" font-weight="bold" text-anchor="end">10</text>
<line x1="1390" y1="1015.5" x2="1403" y2="1015.5" stroke="#000" stroke-width="3"/>
<text transform="translate(1382.5 1032) scale(1 1.05)" font-size="53.5" font-weight="bold" text-anchor="end">15</text>
<line x1="1397" y1="1561.75" x2="1403" y2="1561.75" stroke="#000" stroke-width="3"/>
<line x1="1397" y1="1343.25" x2="1403" y2="1343.25" stroke="#000" stroke-width="3"/>
<line x1="1397" y1="1124.75" x2="1403" y2="1124.75" stroke="#000" stroke-width="3"/>
<line x1="1449.5" y1="1716" x2="1449.5" y2="1728" stroke="#000" stroke-width="3"/>
<text transform="translate(1449.5 1777.9) scale(1 1.05)" font-size="53.5" font-weight="bold" text-anchor="middle">0</text>
<line x1="1564.5" y1="1716" x2="1564.5" y2="1728" stroke="#000" stroke-width="3"/>
<text transform="translate(1564.5 1777.9) scale(1 1.05)" font-size="53.5" font-weight="bold" text-anchor="middle">5</text>
<line x1="1679.5" y1="1716" x2="1679.5" y2="1728" stroke="#000" stroke-width="3"/>
<text transform="translate(1679.5 1777.9) scale(1 1.05)" font-size="53.5" font-weight="bold" text-anchor="middle">10</text>
<line x1="1794.5" y1="1716" x2="1794.5" y2="1728" stroke="#000" stroke-width="3"/>
<text transform="translate(1794.5 1777.9) scale(1 1.05)" font-size="53.5" font-weight="bold" text-anchor="middle">15</text>
<line x1="1909.5" y1="1716" x2="1909.5" y2="1728" stroke="#000" stroke-width="3"/>
<text transform="translate(1909.5 1777.9) scale(1 1.05)" font-size="53.5" font-weight="bold" text-anchor="middle">20</text>
<line x1="2024.5" y1="1716" x2="2024.5" y2="1728" stroke="#000" stroke-width="3"/>
<text transform="translate(2024.5 1777.9) scale(1 1.05)" font-size="53.5" font-weight="bold" text-anchor="middle">25</text>
<line x1="2139.5" y1="1716" x2="2139.5" y2="1728" stroke="#000" stroke-width="3"/>
<text transform="translate(2139.5 1777.9) scale(1 1.05)" font-size="53.5" font-weight="bold" text-anchor="middle">30</text>
<line x1="2254.5" y1="1716" x2="2254.5" y2="1728" stroke="#000" stroke-width="3"/>
<text transform="translate(2254.5 1777.9) scale(1 1.05)" font-size="53.5" font-weight="bold" text-anchor="middle">35</text>
<line x1="2369.5" y1="1716" x2="2369.5" y2="1728" stroke="#000" stroke-width="3"/>
<text transform="translate(2369.5 1777.9) scale(1 1.05)" font-size="53.5" font-weight="bold" text-anchor="middle">40</text>
<line x1="1507" y1="1716" x2="1507" y2="1721" stroke="#000" stroke-width="3"/>
<line x1="1622" y1="1716" x2="1622" y2="1721" stroke="#000" stroke-width="3"/>
<line x1="1737" y1="1716" x2="1737" y2="1721" stroke="#000" stroke-width="3"/>
<line x1="1852" y1="1716" x2="1852" y2="1721" stroke="#000" stroke-width="3"/>
<line x1="1967" y1="1716" x2="1967" y2="1721" stroke="#000" stroke-width="3"/>
<line x1="2082" y1="1716" x2="2082" y2="1721" stroke="#000" stroke-width="3"/>
<line x1="2197" y1="1716" x2="2197" y2="1721" stroke="#000" stroke-width="3"/>
<line x1="2312" y1="1716" x2="2312" y2="1721" stroke="#000" stroke-width="3"/>
<text transform="translate(1650.7 1843) scale(1 1.02)" font-size="72" font-weight="bold">Pore size <tspan x="335.5" font-size="45">(</tspan><tspan x="352" font-size="76">μ</tspan><tspan x="394" font-size="69">m</tspan><tspan x="459" font-size="45">)</tspan></text>
<text transform="translate(1309.2 1578) rotate(-90) scale(1 1.03)" font-size="74" font-weight="bold"><tspan dx="2" font-family="'DejaVu Sans','Liberation Sans',sans-serif" font-size="67" font-weight="normal" stroke="#000" stroke-width="1.5">α</tspan> <tspan dx="-1" font-size="43" font-weight="bold">(</tspan><tspan dx="1">V</tspan><tspan dx="-1">.</tspan><tspan dx="-1.5">c</tspan><tspan dx="-4">m</tspan><tspan dx="2" font-size="49" dy="-30">-1</tspan><tspan dx="1.3" dy="30">.</tspan><tspan dx="-3.45">O</tspan><tspan dx="-2.15">e</tspan><tspan dx="1.3" font-size="49" dy="-30">-1</tspan><tspan dx="-0.5" font-size="43" font-weight="bold" dy="30">)</tspan></text>
<text transform="translate(1443 1106.4)" font-size="72" font-weight="bold" letter-spacing="1">d<tspan font-size="58">)</tspan></text>
</g>
</svg></body></html>
